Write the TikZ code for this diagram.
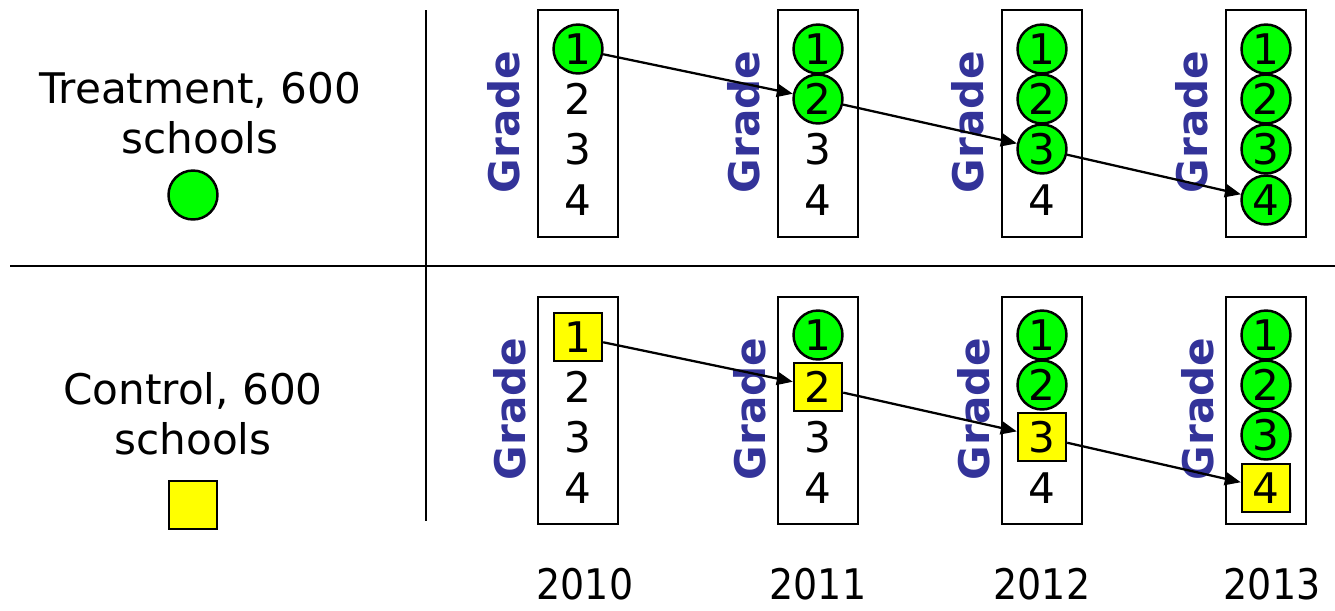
\documentclass[tikz,border=0pt]{standalone}
\usepackage{fontspec}
\setmainfont{DejaVu Sans}
\usepackage{xcolor}
\usetikzlibrary{arrows.meta}
\definecolor{gradeblue}{RGB}{51,51,153}
\definecolor{treatgreen}{RGB}{0,255,0}
\definecolor{ctrlyellow}{RGB}{255,255,0}

\begin{document}
\begin{tikzpicture}[x=0.02cm,y=-0.02cm,>={Triangle[length=0.32cm,width=0.26cm]},
  every node/.style={font=\fontsize{24}{28.5}\selectfont},
  gradebox/.style={draw,line width=1.6pt,minimum width=1.6cm,minimum height=4.54cm,inner sep=0pt},
  gradelabel/.style={rotate=90,text=gradeblue,font=\fontsize{24}{28}\selectfont\bfseries,inner sep=0pt},
  treated/.style={circle,draw,line width=1.4pt,fill=treatgreen,minimum size=0.98cm,inner sep=0pt},
  ctrl/.style={rectangle,draw,line width=1.4pt,fill=ctrlyellow,minimum size=0.96cm,inner sep=0pt},
  gradenum/.style={inner sep=0pt},
  link/.style={->,line width=1.3pt}]
\useasboundingbox (0,0) rectangle (1335,610);

\draw[line width=1.5pt] (426,10) -- (426,521);
\draw[line width=1.5pt] (10,266) -- (1335,266);

% legend
\node[align=center] (treatlab) at (200,113) {Treatment, 600\\schools};
\node[treated] (treatkey) at (193,195) {};
\node[align=center] (ctrllab) at (193,414) {Control, 600\\schools};
\node[ctrl] (ctrlkey) at (193,505) {};

\foreach \i/\x/\yx/\yr in {0/578/585/2010,1/818/818/2011,2/1042/1042/2012,3/1266/1272/2013}{
  \node[gradebox] (tbox\i) at (\x,123.5) {};
  \node[gradebox] (cbox\i) at (\x,410.5) {};
  \node[gradelabel] (tlab\i) at (\x-74,122) {Grade};
  \node[gradelabel] (clab\i) at (\x-68,409) {Grade};
  \node[xscale=0.9,inner sep=0pt,font=\fontsize{24}{28}\selectfont] (year\i) at (\yx,584) {\yr};
  \foreach \g/\y in {1/49,2/99,3/149,4/200}{
    \ifnum\g>\numexpr\i+1\relax
      \node[gradenum] (t-\i-\g) at (\x,\y) {\g};
      \node[gradenum] (c-\i-\g) at (\x,\y+288) {\g};
    \else
      \node[treated] (t-\i-\g) at (\x,\y) {\g};
      \ifnum\g=\numexpr\i+1\relax
        \node[ctrl] (c-\i-\g) at (\x,\y+288) {\g};
      \else
        \node[treated] (c-\i-\g) at (\x,\y+286) {\g};
      \fi
    \fi
  }
}

\foreach \i/\j/\a/\b in {0/1/1/2,1/2/2/3,2/3/3/4}{
  \draw[link] (t-\i-\a) -- (t-\j-\b);
  \draw[link] (c-\i-\a) -- (c-\j-\b);
}
\end{tikzpicture}
\end{document}
